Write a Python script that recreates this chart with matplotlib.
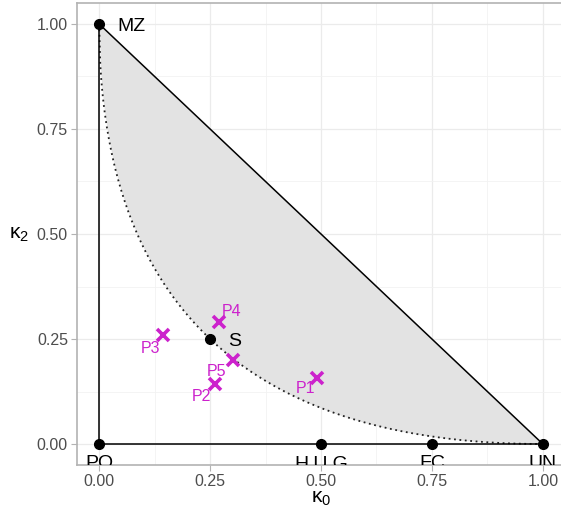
import numpy as np
import matplotlib
matplotlib.use("Agg")
import matplotlib.pyplot as plt

plt.rcParams['font.family'] = ['Liberation Sans', 'DejaVu Sans']
plt.rcParams['mathtext.fontset'] = 'dejavusans'

# Reference relationships (kappa0, kappa2)
ref_labels = ["MZ", "PO", "H,U,G", "FC", "UN", "S"]
ref_k0 = [0.00, 0.00, 0.50, 0.75, 1.00, 0.25]
ref_k2 = [1.00, 0.00, 0.00, 0.00, 0.00, 0.25]

# Estimated pairs
pair_labels = ["P1", "P2", "P3", "P4", "P5"]
pair_k0 = [0.492, 0.261, 0.143, 0.270, 0.301]
pair_k2 = [0.158, 0.143, 0.260, 0.290, 0.200]

ticks = [0.00, 0.25, 0.50, 0.75, 1.00]
tick_labels = ["0.00", "0.25", "0.50", "0.75", "1.00"]
minor_ticks = [0.125, 0.375, 0.625, 0.875]

W, H = 561, 509
fig = plt.figure(figsize=(W / 100, H / 100), dpi=100)
ax = fig.add_axes([77 / W, (H - 465) / H, (565 - 77) / W, (465 - 3) / H])

# theoretical boundary of the admissible region: sqrt(k0) + sqrt(k2) = 1
k0_curve = np.linspace(0, 1, 400)
k2_curve = (1 - np.sqrt(k0_curve)) ** 2

ax.fill_between(k0_curve, k2_curve, 1 - k0_curve, color='#e3e3e3', lw=0, zorder=1)
ax.plot(k0_curve, k2_curve, color='#222222', lw=1.3, ls=(0, (1, 2)), zorder=2)

# triangle edges
ax.plot([0, 1], [1, 0], color='black', lw=1.1, zorder=3)
ax.plot([0, 0], [0, 1], color='black', lw=1.1, zorder=3)
ax.plot([0, 1], [0, 0], color='black', lw=1.1, zorder=3)

ax.plot(ref_k0, ref_k2, 'o', color='black', ms=7, zorder=5, clip_on=False)

for lab, x, y in zip(ref_labels, ref_k0, ref_k2):
    if y == 0:
        ax.annotate(lab, (x, y), xytext=(0, -8), textcoords='offset points',
                    ha='center', va='top', fontsize=14, color='black',
                    annotation_clip=False, clip_on=True, zorder=6)
    else:
        ax.annotate(lab, (x, y), xytext=(13, -1.5), textcoords='offset points',
                    ha='left', va='center', fontsize=14, color='black', zorder=6)

mag = '#cc22cc'
ax.plot(pair_k0, pair_k2, 'x', color=mag, ms=8, mew=2.6, zorder=7)

pair_offsets = {"P1": (-8.5, -7.5), "P2": (-9.5, -9), "P3": (-9, -10),
                "P4": (9, 8), "P5": (-12, -8.5)}
for lab, x, y in zip(pair_labels, pair_k0, pair_k2):
    dx, dy = pair_offsets[lab]
    ax.annotate(lab, (x, y), xytext=(dx, dy), textcoords='offset points',
                ha='center', va='center', fontsize=11.5, color=mag, zorder=8)

ax.set_xlim(-0.05, 1.05)
ax.set_ylim(-0.05, 1.05)
ax.set_xticks(ticks)
ax.set_xticklabels(tick_labels)
ax.set_yticks(ticks)
ax.set_yticklabels(tick_labels)
ax.set_xticks(minor_ticks, minor=True)
ax.set_yticks(minor_ticks, minor=True)
ax.grid(which='major', color='#ebebeb', lw=0.9, zorder=0)
ax.grid(which='minor', color='#f2f2f2', lw=0.6, zorder=0)
ax.set_axisbelow(True)
ax.tick_params(which='major', length=4, width=0.8, color='#b3b3b3',
               labelsize=11.5, labelcolor='#4d4d4d', pad=2.5)
ax.tick_params(which='minor', length=0)
for s in ax.spines.values():
    s.set_color('#b3b3b3')
    s.set_linewidth(1.2)

ax.set_xlabel(r'$\mathregular{κ_0}$', fontsize=15, labelpad=0)
ax.set_ylabel(r'$\mathregular{κ_2}$', fontsize=15, rotation=0, labelpad=13, va='center')

fig.savefig('out.png', dpi=100)
